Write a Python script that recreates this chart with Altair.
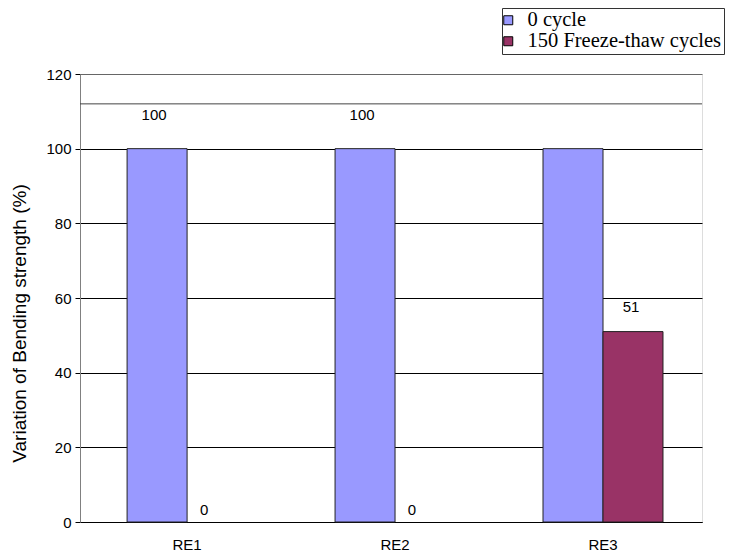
import altair as alt
import pandas as pd

categories = ["RE1", "RE2", "RE3"]
series_names = ["0 cycle", "150 Freeze-thaw cycles"]
cycle0 = [100, 100, 100]
cycle150 = [0, 0, 51]
# data labels as printed on the chart ("" = no label shown)
labels0 = ["100", "100", ""]
labels150 = ["0", "0", "51"]
y_ticks = [0, 20, 40, 60, 80, 100, 120]
extra_line = [112]

rows = []
for c, a, b, la, lb in zip(categories, cycle0, cycle150, labels0, labels150):
    rows.append({"cat": c, "series": series_names[0], "value": a, "label": la})
    rows.append({"cat": c, "series": series_names[1], "value": b, "label": lb})
df = pd.DataFrame(rows)

colors = ["#9999FF", "#993366"]
FONT = "Liberation Sans"

x_scale = alt.Scale(paddingInner=0.423, paddingOuter=0.207, align=0.547)
x_enc = alt.X("cat:N", sort=categories, title=None, scale=x_scale,
              axis=alt.Axis(labelAngle=0, labelFont=FONT, labelFontSize=15,
                            labelColor="black", ticks=False, domainColor="black",
                            labelPadding=27, labelBaseline="alphabetic"))
xo_enc = alt.XOffset("series:N", sort=series_names,
                     scale=alt.Scale(domain=series_names, paddingInner=0, paddingOuter=0))
y_scale = alt.Scale(domain=[0, 120], nice=False)
y_plain = alt.Y("value:Q", scale=y_scale)

bars = alt.Chart(df).transform_filter(alt.datum.value > 0).mark_bar(
    stroke="#222222", strokeWidth=1).encode(
    x=x_enc,
    xOffset=xo_enc,
    y=alt.Y("value:Q", scale=y_scale, title="Variation of Bending strength  (%)",
            axis=alt.Axis(values=y_ticks, labelFont=FONT, labelFontSize=15, labelColor="black",
                          titleFont=FONT, titleFontSize=19, titleFontWeight="normal",
                          titleColor="black", titleX=-61, titleY=249, titleAngle=270,
                          titleAlign="center", titleBaseline="middle",
                          gridColor={"condition": {"test": "datum.value === 120", "value": "#666666"},
                                     "value": "black"},
                          gridWidth=1, domainColor="#808080",
                          tickColor="black", tickSize=5, labelPadding=4)),
    color=alt.Color("series:N", sort=series_names,
                    scale=alt.Scale(domain=series_names, range=colors),
                    legend=alt.Legend(title=None, orient="none", legendX=422, legendY=-66,
                                      strokeColor="#333333", fillColor="white", padding=2,
                                      labelFont="Liberation Serif", labelFontSize=20.5,
                                      labelColor="black", labelLimit=500,
                                      symbolType="square", symbolSize=81,
                                      symbolStrokeColor="black", symbolStrokeWidth=1,
                                      symbolOffset=-6,
                                      symbolOpacity=1, rowPadding=-1, labelOffset=9)),
)

rule = alt.Chart(pd.DataFrame({"y": extra_line})).mark_rule(color="#444444", strokeWidth=1).encode(
    y=alt.Y("y:Q", scale=y_scale)
)

def text_layer(filt, dx, dy):
    return alt.Chart(df).transform_filter(filt).mark_text(
        font=FONT, fontSize=15, color="black", baseline="middle", dx=dx, dy=dy).encode(
        x=x_enc, xOffset=xo_enc, y=y_plain, text="label:N")

t_blue = text_layer((alt.datum.series == series_names[0]) & (alt.datum.label != ""), -3, -34)
t_red0 = text_layer((alt.datum.series == series_names[1]) & (alt.datum.value == 0), -13, -12)
t_red = text_layer((alt.datum.series == series_names[1]) & (alt.datum.value > 0), -2, -25)

chart = alt.layer(bars, rule, t_blue, t_red0, t_red).properties(
    width=622, height=448,
    autosize="none",
    padding={"left": 72, "top": 66, "right": 29, "bottom": 29},
).configure_view(stroke="#808080", strokeWidth=1).configure(background="white")

chart.save("out.html", embed_options={"renderer": "svg", "actions": False})
